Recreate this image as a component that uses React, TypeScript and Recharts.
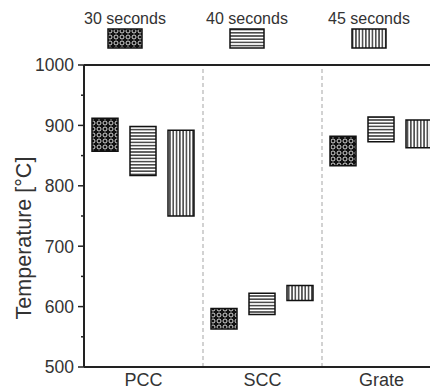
import React from 'react';
import { BarChart, Bar, XAxis, YAxis, ReferenceLine } from 'recharts';

const categories = ['PCC', 'SCC', 'Grate'];
const seriesNames = ['30 seconds', '40 seconds', '45 seconds'];
const patternIds = ['p30', 'p40', 'p45'];

// floating bars: [low, high] in °C
const low30 = [857, 563, 833];
const high30 = [912, 597, 882];
const low40 = [817, 587, 873];
const high40 = [898, 622, 914];
const low45 = [750, 610, 863];
const high45 = [892, 635, 909];

const yMajorTicks = [500, 600, 700, 800, 900, 1000];
const yMinorTicks = [550, 650, 750, 850, 950];
const separators = [1, 2];

const FONT = '"Liberation Sans", Arial, Helvetica, sans-serif';

const data = categories.map((name, i) => ({
  name,
  pos: i + 0.5,
  s30: [low30[i], high30[i]],
  s40: [low40[i], high40[i]],
  s45: [low45[i], high45[i]],
}));

const TICK_SIZE = 6;
const TICK_MARGIN = 4;

const YTick = (props: any) => {
  const { x, y, payload } = props;
  const major = yMajorTicks.includes(payload.value);
  const x2 = x + TICK_MARGIN + TICK_SIZE;
  return (
    <g>
      <line x1={major ? x2 - 6 : x2 - 3} x2={x2} y1={y} y2={y} stroke="#222" strokeWidth={1.5} />
      {major && (
        <text x={x} y={y} dy="0.36em" textAnchor="end" fontSize={17.5} fill="#333" fontFamily={FONT}>
          {payload.value}
        </text>
      )}
    </g>
  );
};

const YLabel = (props: any) => {
  const { viewBox } = props;
  const cx = viewBox.x + 24;
  const cy = viewBox.y + viewBox.height / 2 + 22;
  return (
    <text
      x={cx}
      y={cy}
      transform={`rotate(-90, ${cx}, ${cy})`}
      textAnchor="middle"
      dominantBaseline="central"
      fontSize={21.5}
      fill="#333"
      fontFamily={FONT}
    >
      Temperature [°C]
    </text>
  );
};

const App = () => {
  return (
    <div style={{ position: 'absolute', left: 0, top: 0, width: 430, height: 391, overflow: 'hidden', background: '#fff' }}>
      {/* Legend */}
      <div style={{ position: 'absolute', left: 64, top: 10, display: 'flex', fontFamily: FONT }}>
        {seriesNames.map((s, i) => (
          <div key={s} style={{ width: 122, display: 'flex', flexDirection: 'column', alignItems: 'center' }}>
            <span style={{ fontSize: 16, color: '#333', lineHeight: '18px' }}>{s}</span>
            <svg width={36} height={21}>
              <rect x={1} y={1} width={34} height={19} fill={`url(#${patternIds[i]})`} stroke="#111" strokeWidth={1.5} />
            </svg>
          </div>
        ))}
      </div>

      <BarChart
        width={442}
        height={391}
        data={data}
        margin={{ top: 65, right: 1, left: 0, bottom: 0 }}
        barCategoryGap={8}
        barGap={12}
      >
        <defs>
          <pattern id="p30" width={6} height={6} patternUnits="userSpaceOnUse">
            <rect width={6} height={6} fill="#111" />
            <circle cx={3} cy={3} r={2} fill="none" stroke="#e8e8e8" strokeWidth={0.9} />
          </pattern>
          <pattern id="p40" width={6} height={3.2} patternUnits="userSpaceOnUse">
            <rect width={6} height={3.2} fill="#fff" />
            <line x1={0} x2={6} y1={1.6} y2={1.6} stroke="#222" strokeWidth={1.3} />
          </pattern>
          <pattern id="p45" width={3.3} height={6} patternUnits="userSpaceOnUse">
            <rect width={3.3} height={6} fill="#fff" />
            <line x1={1.65} x2={1.65} y1={0} y2={6} stroke="#222" strokeWidth={1.3} />
          </pattern>
        </defs>

        <XAxis
          xAxisId="cat"
          dataKey="name"
          height={24}
          axisLine={{ stroke: '#222', strokeWidth: 2 }}
          tickLine={false}
          tickSize={4}
          tickMargin={2}
          tick={{ fontSize: 18, fill: '#333', fontFamily: FONT }}
        />
        <XAxis xAxisId="sep" dataKey="pos" type="number" domain={[0, 3]} allowDataOverflow hide />
        <YAxis
          width={84}
          domain={[500, 1000]}
          ticks={[...yMajorTicks, ...yMinorTicks].sort((a, b) => a - b)}
          interval={0}
          allowDataOverflow
          axisLine={{ stroke: '#222', strokeWidth: 2 }}
          tickLine={false}
          tickSize={TICK_SIZE}
          tickMargin={TICK_MARGIN}
          tick={<YTick />}
          label={{ content: <YLabel /> }}
        />

        {separators.map((s) => (
          <ReferenceLine
            key={s}
            xAxisId="sep"
            x={s}
            stroke="#c4c4c4"
            strokeWidth={1.5}
            strokeDasharray="4 3"
          />
        ))}
        <ReferenceLine xAxisId="cat" y={1000} stroke="#222" strokeWidth={2} />

        <Bar xAxisId="cat" dataKey="s30" fill="url(#p30)" stroke="#111" strokeWidth={1.5} isAnimationActive={false} />
        <Bar xAxisId="cat" dataKey="s40" fill="url(#p40)" stroke="#111" strokeWidth={1.5} isAnimationActive={false} />
        <Bar xAxisId="cat" dataKey="s45" fill="url(#p45)" stroke="#111" strokeWidth={1.5} isAnimationActive={false} />
      </BarChart>
    </div>
  );
};

export default App;
